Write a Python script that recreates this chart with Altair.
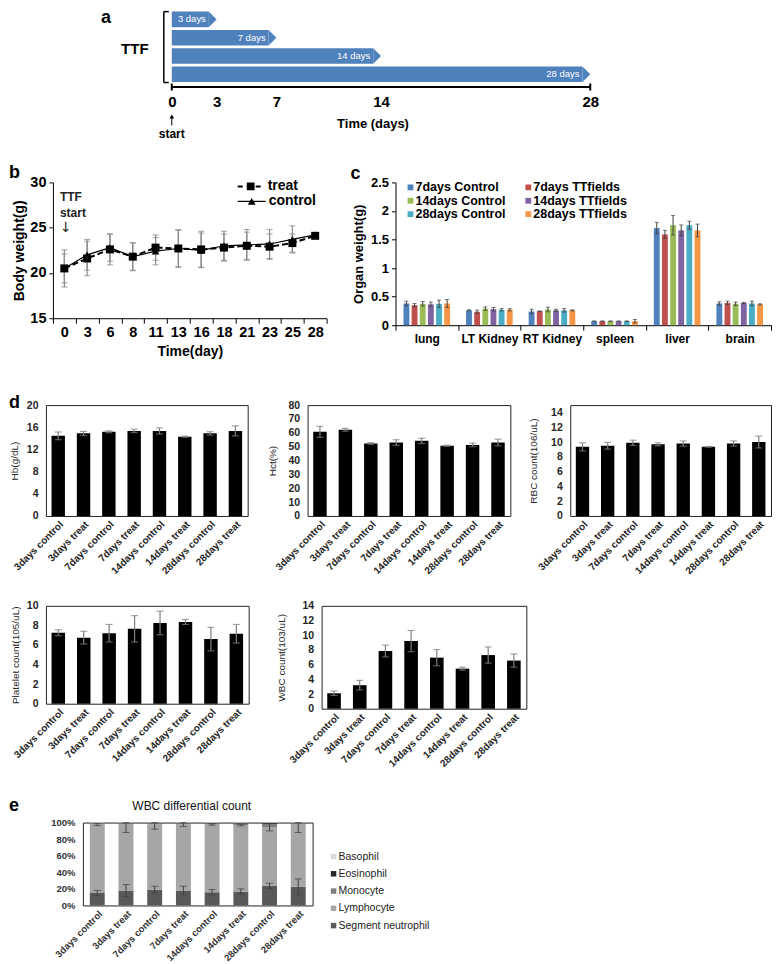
import altair as alt
import pandas as pd

FONT = "Liberation Sans"
BLUE = "#4F81BD"

# ---------------- panel a : treatment schedule ----------------
ttf_days = [3, 7, 14, 28]
ttf_labels = ["3 days", "7 days", "14 days", "28 days"]
time_ticks = [0, 3, 7, 14, 28]

# ---------------- panel b : body weight ----------------
bw_days = ["0", "3", "6", "8", "11", "13", "16", "18", "21", "23", "25", "28"]
bw_treat_mean = [20.5, 21.6, 22.6, 21.8, 22.8, 22.7, 22.6, 22.8, 23.0, 22.9, 23.3, 24.1]
bw_treat_sd = [2.05, 1.9, 1.7, 1.55, 1.4, 2.1, 2.0, 1.5, 1.5, 1.4, 1.0, 0.2]
bw_control_mean = [20.5, 22.0, 22.8, 21.8, 22.4, 22.7, 22.5, 23.0, 23.1, 23.2, 23.7, 24.2]
bw_control_sd = [1.6, 1.7, 1.5, 1.5, 1.5, 2.0, 1.9, 1.6, 1.7, 1.6, 1.5, 0.2]
bw_ticks = [15, 20, 25, 30]

# ---------------- panel c : organ weight ----------------
organs = ["lung", "LT Kidney", "RT Kidney", "spleen", "liver", "brain"]
organ_groups = ["7days Control", "7days TTfields", "14days Control",
                "14days TTfields", "28days Control", "28days TTfields"]
organ_colors = ["#4F81BD", "#C0504D", "#9BBB59", "#8064A2", "#4BACC6", "#F79646"]
c7_mean = [0.38, 0.26, 0.24, 0.07, 1.70, 0.38]
t7_mean = [0.35, 0.235, 0.245, 0.07, 1.59, 0.39]
c14_mean = [0.375, 0.29, 0.275, 0.07, 1.75, 0.375]
t14_mean = [0.365, 0.28, 0.26, 0.07, 1.66, 0.39]
c28_mean = [0.375, 0.27, 0.26, 0.07, 1.75, 0.38]
t28_mean = [0.38, 0.27, 0.26, 0.07, 1.66, 0.365]
c7_err = [0.04, 0.01, 0.04, 0.005, 0.10, 0.03]
t7_err = [0.03, 0.03, 0.005, 0.005, 0.07, 0.03]
c14_err = [0.04, 0.03, 0.04, 0.005, 0.17, 0.03]
t14_err = [0.04, 0.03, 0.02, 0.005, 0.095, 0.01]
c28_err = [0.065, 0.02, 0.03, 0.005, 0.07, 0.04]
t28_err = [0.07, 0.02, 0.01, 0.03, 0.11, 0.01]
organ_ticks = [0, 0.5, 1, 1.5, 2, 2.5]

# ---------------- panel d : blood counts ----------------
blood_groups = ["3days control", "3days treat", "7days control", "7days treat",
                "14days control", "14days treat", "28days control", "28days treat"]
hb_mean = [14.45, 14.9, 15.2, 15.35, 15.35, 14.3, 14.9, 15.35]
hb_err = [0.7, 0.35, 0.15, 0.3, 0.55, 0.1, 0.3, 0.9]
hct_mean = [60.7, 62.2, 52.3, 53.0, 54.2, 50.6, 51.3, 53.0]
hct_err = [4.0, 1.0, 0.6, 2.0, 1.9, 0.4, 1.3, 2.4]
rbc_mean = [9.35, 9.5, 9.9, 9.7, 9.8, 9.35, 9.8, 10.0]
rbc_err = [0.55, 0.45, 0.35, 0.2, 0.35, 0.05, 0.35, 0.8]
plt_mean = [7.25, 6.75, 7.2, 7.65, 8.25, 8.35, 6.6, 7.15]
plt_err = [0.3, 0.65, 0.9, 1.35, 1.2, 0.25, 1.2, 0.95]
wbc_mean = [2.1, 3.2, 7.85, 9.2, 6.95, 5.45, 7.3, 6.55]
wbc_err = [0.3, 0.65, 0.8, 1.45, 1.1, 0.2, 1.1, 0.9]
hb_ticks = [0, 4, 8, 12, 16, 20]
hct_ticks = [0, 10, 20, 30, 40, 50, 60, 70, 80]
rbc_ticks = [0, 2, 4, 6, 8, 10, 12, 14]
plt_ticks = [0, 2, 4, 6, 8, 10]
wbc_ticks = [0, 2, 4, 6, 8, 10, 12, 14]

# ---------------- panel e : WBC differential ----------------
cell_types = ["Segment neutrophil", "Lymphocyte", "Monocyte", "Eosinophil", "Basophil"]
cell_colors = ["#595959", "#A6A6A6", "#7F7F7F", "#262626", "#D9D9D9"]
legend_order = ["Basophil", "Eosinophil", "Monocyte", "Lymphocyte", "Segment neutrophil"]
neut_pct = [15.0, 18.0, 19.2, 18.0, 16.0, 16.8, 23.6, 22.4]
lymph_pct = [82.5, 79.7, 78.5, 79.7, 81.7, 80.2, 70.9, 75.3]
mono_pct = [1.5, 1.5, 1.5, 1.5, 1.5, 2.0, 4.0, 1.5]
eos_pct = [0.3, 0.3, 0.3, 0.3, 0.3, 0.5, 1.0, 0.3]
baso_pct = [0.7, 0.5, 0.5, 0.5, 0.5, 0.5, 0.5, 0.5]
neut_err = [3.2, 7.2, 4.0, 5.2, 3.2, 3.2, 3.2, 9.6]
lymph_err = [1.2, 9.7, 5.7, 2.5, 0.9, 1.0, 4.5, 9.7]
pct_ticks = [0, 20, 40, 60, 80, 100]

ONE = pd.DataFrame({"k": [0]})


def anchor(top, bottom):
    # invisible guide that fixes the vertical extent of a figure row
    return alt.Chart(ONE).mark_rule(opacity=0, color="white", strokeWidth=0.1).encode(
        x=alt.value(0), y=alt.value(top), y2=alt.value(bottom))


def spacer(w):
    return alt.Chart(ONE).mark_point(opacity=0, size=1, strokeWidth=0.1).encode(
        x=alt.value(w / 2), y=alt.value(0.5)).properties(width=w, height=1)


def label(text, x, y, size=18, weight="bold", align="left", baseline="top",
          color="black", font=FONT):
    return alt.Chart(pd.DataFrame({"t": [text]})).mark_text(
        align=align, baseline=baseline, fontSize=size, fontWeight=weight,
        font=font, color=color).encode(x=alt.value(x), y=alt.value(y), text="t:N")


def swatch(color, x, y, size=36):
    return alt.Chart(ONE).mark_square(size=size, color=color, opacity=1).encode(
        x=alt.value(x), y=alt.value(y))


# =============== panel a ===============
W_A, H_A = 419, 76
a_df = pd.DataFrame({"days": ttf_days, "label": ttf_labels})
a_y = alt.Y("label:N", sort=ttf_labels, axis=None,
            scale=alt.Scale(paddingInner=0.15, paddingOuter=0.15, align=0.18))
a_xs = alt.Scale(domain=[0, 28], nice=False)
a_ax = alt.Axis(values=time_ticks, ticks=False, grid=False, domainColor="black", domainWidth=2,
                labelFont=FONT, labelFontSize=15, labelFontWeight="bold", labelColor="black",
                labelPadding=8, labelOverlap=False, labelFlush=False,
                title="Time (days)", titleFont=FONT, titleFontSize=13, titleFontWeight="bold",
                titleColor="black", titlePadding=8, titleX=201)
a_base = alt.Chart(a_df).transform_calculate(start="0", body="datum.days - 0.52")
a_bars = a_base.mark_bar(color=BLUE).encode(
    x=alt.X("start:Q", scale=a_xs, axis=a_ax), x2="body:Q", y=a_y)
a_tips = a_base.mark_point(shape="M -1 -1 L 0 0 L -1 1 Z", size=240, filled=True,
                           color=BLUE, opacity=1, strokeWidth=0).encode(
    x=alt.X("days:Q", scale=a_xs, axis=a_ax), y=a_y)
a_text = a_base.mark_text(align="right", baseline="middle", dx=-3, color="white",
                          font=FONT, fontSize=9.5).encode(
    x=alt.X("body:Q", scale=a_xs, axis=a_ax), y=a_y, text="label:N")
a_ends = alt.Chart(pd.DataFrame({"d": [time_ticks[0], time_ticks[-1]]})).mark_rule(
    color="black", strokeWidth=2).encode(
    x=alt.X("d:Q", scale=a_xs, axis=a_ax), y=alt.value(H_A - 3), y2=alt.value(H_A + 4))
br = alt.Chart(ONE)
a_br1 = br.mark_rule(color="black", strokeWidth=1.5).encode(
    x=alt.value(-8), y=alt.value(1), y2=alt.value(72))
a_br2 = br.mark_rule(color="black", strokeWidth=1.5).encode(
    x=alt.value(-8), x2=alt.value(-3), y=alt.value(1))
a_br3 = br.mark_rule(color="black", strokeWidth=1.5).encode(
    x=alt.value(-8), x2=alt.value(-3), y=alt.value(72))
a_arrow = br.mark_rule(color="black", strokeWidth=1).encode(
    x=alt.value(0), y=alt.value(106), y2=alt.value(115))
a_head = br.mark_point(shape="triangle-up", size=22, filled=True, color="black",
                       opacity=1).encode(x=alt.value(0), y=alt.value(106))
chart_a = alt.layer(
    a_bars, a_tips, a_text, a_ends, a_br1, a_br2, a_br3, a_arrow, a_head,
    label("TTF", -37, 38, size=15, align="center", baseline="middle"),
    label("start", 0, 124, size=12, align="center", baseline="middle"),
    label("a", -71, -2, size=18),
    anchor(-2, 138),
).properties(width=W_A, height=H_A)

# =============== panel b ===============
W_B, H_B = 274, 136
b_rows = []
for s, mm, sd in [("treat", bw_treat_mean, bw_treat_sd), ("control", bw_control_mean, bw_control_sd)]:
    for d, m, e in zip(bw_days, mm, sd):
        b_rows.append({"day": d, "series": s, "m": m, "lo": m - e, "hi": m + e})
b_df = pd.DataFrame(b_rows)
b_xs = alt.Scale(type="band", paddingInner=0, paddingOuter=0)
b_ys = alt.Scale(domain=[15, 30], nice=False, zero=False)
b_xax = alt.Axis(tickBand="extent", labelAngle=0, ticks=True, tickSize=5, tickColor="black",
                 domainColor="black", labelFont=FONT, labelFontSize=14.5, labelFontWeight="bold",
                 labelColor="black", labelPadding=2, labelOverlap=False,
                 title="Time(day)", titleFont=FONT, titleFontSize=14, titleFontWeight="bold",
                 titleColor="black", titlePadding=6)
b_yax = alt.Axis(values=bw_ticks, ticks=True, tickSize=4, tickColor="black", domainColor="black",
                 labelFont=FONT, labelFontSize=14.5, labelFontWeight="bold", labelColor="black",
                 labelPadding=3, grid=False, title="Body weight(g)", titleFont=FONT,
                 titleFontSize=14, titleFontWeight="bold", titleColor="black", titlePadding=3)
b_x = alt.X("day:N", sort=bw_days, scale=b_xs, axis=b_xax)


def b_y(field):
    return alt.Y(field + ":Q", scale=b_ys, axis=b_yax)


b_base = alt.Chart(b_df)
GREY = "#8c8c8c"
b_err = b_base.mark_rule(color=GREY, strokeWidth=1.2).encode(x=b_x, y=b_y("lo"), y2="hi:Q")
b_cap1 = b_base.mark_tick(orient="horizontal", size=6, thickness=1.2, color=GREY).encode(
    x=b_x, y=b_y("lo"))
b_cap2 = b_base.mark_tick(orient="horizontal", size=6, thickness=1.2, color=GREY).encode(
    x=b_x, y=b_y("hi"))
b_treat = b_base.transform_filter("datum.series == 'treat'")
b_ctrl = b_base.transform_filter("datum.series == 'control'")
b_tl = b_treat.mark_line(color="black", strokeWidth=2, strokeDash=[6, 3]).encode(x=b_x, y=b_y("m"))
b_cl = b_ctrl.mark_line(color="black", strokeWidth=1.2).encode(x=b_x, y=b_y("m"))
b_tp = b_treat.mark_point(shape="square", size=64, filled=True, color="black", opacity=1).encode(
    x=b_x, y=b_y("m"))
b_cp = b_ctrl.mark_point(shape="triangle-up", size=60, filled=True, color="black", opacity=1).encode(
    x=b_x, y=b_y("m"))
leg_t = alt.Chart(pd.DataFrame({"s": ["treat"]}))
leg_c = alt.Chart(pd.DataFrame({"s": ["control"]}))
b_l1 = leg_t.mark_rule(color="black", strokeWidth=2, strokeDash=[5, 4]).encode(
    x=alt.value(185), x2=alt.value(211), y=alt.value(4))
b_l2 = leg_t.mark_point(shape="square", size=60, filled=True, color="black", opacity=1).encode(
    x=alt.value(198), y=alt.value(4))
b_l3 = leg_t.mark_text(align="left", baseline="middle", font=FONT, fontSize=14,
                       fontWeight="bold", color="black").encode(
    x=alt.value(215), y=alt.value(4), text="s:N")
b_l4 = leg_c.mark_rule(color="black", strokeWidth=1.2).encode(
    x=alt.value(185), x2=alt.value(213), y=alt.value(19))
b_l5 = leg_c.mark_point(shape="triangle-up", size=60, filled=True, color="black", opacity=1).encode(
    x=alt.value(199), y=alt.value(19))
b_l6 = leg_c.mark_text(align="left", baseline="middle", font=FONT, fontSize=14,
                       fontWeight="bold", color="black").encode(
    x=alt.value(216), y=alt.value(19), text="s:N")
chart_b = alt.layer(
    b_err, b_cap1, b_cap2, b_tl, b_cl, b_tp, b_cp,
    b_l1, b_l2, b_l3, b_l4, b_l5, b_l6,
    label("TTF", 7, 15, size=12, baseline="middle", color="#222"),
    label("start", 7, 31, size=12, baseline="middle", color="#222"),
    label("\u2193", 13, 46, size=14, weight="normal", align="center", baseline="middle",
          font="DejaVu Sans", color="#222"),
    label("b", -44, -18, size=18),
    anchor(-34, 196),
).properties(width=W_B, height=H_B)

# =============== panel c ===============
W_C, H_C = 376, 143
c_means = [c7_mean, t7_mean, c14_mean, t14_mean, c28_mean, t28_mean]
c_errs = [c7_err, t7_err, c14_err, t14_err, c28_err, t28_err]
c_rows = []
for g, mm, ee in zip(organ_groups, c_means, c_errs):
    for o, m, e in zip(organs, mm, ee):
        c_rows.append({"organ": o, "group": g, "m": m, "lo": m - e, "hi": m + e})
c_df = pd.DataFrame(c_rows)
c_xs = alt.Scale(paddingInner=0, paddingOuter=0)
c_ys = alt.Scale(domain=[0, 2.5], nice=False)
c_xax = alt.Axis(tickBand="extent", labelAngle=0, ticks=True, tickSize=5, tickColor="black",
                 domainColor="black", labelFont=FONT, labelFontSize=12, labelFontWeight="bold",
                 labelColor="black", labelPadding=3, labelOverlap=False, title=None)
c_yax = alt.Axis(values=organ_ticks, format="~g", ticks=True, tickSize=4, tickColor="black",
                 domainColor="black", labelFont=FONT, labelFontSize=13, labelFontWeight="bold",
                 labelColor="black", labelPadding=3, grid=False, title="Organ weight(g)",
                 titleFont=FONT, titleFontSize=13, titleFontWeight="bold", titleColor="black",
                 titlePadding=5)
c_x = alt.X("organ:N", sort=organs, scale=c_xs, axis=c_xax)


def c_y(field):
    return alt.Y(field + ":Q", scale=c_ys, axis=c_yax)


c_off = alt.XOffset("group:N", sort=organ_groups,
                    scale=alt.Scale(domain=organ_groups, paddingInner=0.28, paddingOuter=0.98))
c_col = alt.Color("group:N", scale=alt.Scale(domain=organ_groups, range=organ_colors), legend=None)
c_base = alt.Chart(c_df)
c_bars = c_base.mark_bar().encode(x=c_x, xOffset=c_off, y=c_y("m"), color=c_col)
c_err = c_base.mark_rule(color="#404040", strokeWidth=1).encode(
    x=c_x, xOffset=c_off, y=c_y("lo"), y2="hi:Q")
c_cap1 = c_base.mark_tick(orient="horizontal", size=4, thickness=1, color="#404040").encode(
    x=c_x, xOffset=c_off, y=c_y("lo"))
c_cap2 = c_base.mark_tick(orient="horizontal", size=4, thickness=1, color="#404040").encode(
    x=c_x, xOffset=c_off, y=c_y("hi"))
c_leg = []
for i, (g, col) in enumerate(zip(organ_groups, organ_colors)):
    lx = 15 + (i % 2) * 118
    ly = 5 + (i // 2) * 13.4
    c_leg.append(swatch(col, lx, ly, 34))
    c_leg.append(label(g, lx + 5, ly, size=12.5, baseline="middle"))
chart_c = alt.layer(c_bars, c_err, c_cap1, c_cap2, *c_leg, label("c", -45, -17, size=18)
                    ).properties(width=W_C, height=H_C)


# =============== panel d ===============
def blood_panel(mean, err, ticks, ymax, title, w, h, tpad=12, extra=()):
    df = pd.DataFrame({"g": blood_groups, "m": mean, "e": err})
    df["lo"] = df["m"] - df["e"]
    df["hi"] = df["m"] + df["e"]
    xs = alt.Scale(paddingInner=0.47, paddingOuter=0.22)
    ys = alt.Scale(domain=[0, ymax], nice=False)
    xax = alt.Axis(labelAngle=-45, ticks=False, domain=False, labelFont=FONT,
                   labelFontSize=10, labelFontWeight="bold", labelColor="#262626",
                   labelPadding=3, labelOverlap=False, title=None)
    yax = alt.Axis(values=ticks, ticks=False, domain=False, grid=False, labelFont=FONT,
                   labelFontSize=10.5, labelFontWeight="bold", labelColor="#262626",
                   labelPadding=8, title=title, titleFont=FONT, titleFontSize=10,
                   titleFontWeight="normal", titleColor="#262626", titlePadding=tpad)
    x = alt.X("g:N", sort=blood_groups, scale=xs, axis=xax)
    base = alt.Chart(df)
    bars = base.mark_bar(color="black").encode(x=x, y=alt.Y("m:Q", scale=ys, axis=yax))
    rule = base.mark_rule(color="#7f7f7f", strokeWidth=1.2).encode(
        x=x, y=alt.Y("lo:Q", scale=ys, axis=yax), y2="hi:Q")
    cap1 = base.mark_tick(orient="horizontal", size=7, thickness=1.2, color="#7f7f7f").encode(
        x=x, y=alt.Y("lo:Q", scale=ys, axis=yax))
    cap2 = base.mark_tick(orient="horizontal", size=7, thickness=1.2, color="#7f7f7f").encode(
        x=x, y=alt.Y("hi:Q", scale=ys, axis=yax))
    return alt.layer(bars, rule, cap1, cap2, *extra).properties(
        width=w, height=h, view=alt.ViewBackground(stroke="#222", strokeWidth=1))


chart_hb = blood_panel(hb_mean, hb_err, hb_ticks, 20, "Hb(g/dL)", 202, 111, tpad=7,
                       extra=(label("d", -37, -11, size=18), anchor(-26, 185)))
chart_hct = blood_panel(hct_mean, hct_err, hct_ticks, 80, "Hct(%)", 203, 111, tpad=10)
chart_rbc = blood_panel(rbc_mean, rbc_err, rbc_ticks, 15, "RBC count(106/uL)", 201, 111, tpad=12)
chart_plt = blood_panel(plt_mean, plt_err, plt_ticks, 10, "Platelet count(105/uL)", 203, 98, tpad=6,
                        extra=(anchor(-14, 181),))
chart_wbc = blood_panel(wbc_mean, wbc_err, wbc_ticks, 14, "WBC count(103/uL)", 205, 103, tpad=15)

# =============== panel e ===============
W_E, H_E = 230, 83
e_rows = []
stack_vals = [neut_pct, lymph_pct, mono_pct, eos_pct, baso_pct]
for k, (ct, vals) in enumerate(zip(cell_types, stack_vals)):
    for g, v in zip(blood_groups, vals):
        e_rows.append({"g": g, "cell": ct, "pct": v, "k": k})
e_df = pd.DataFrame(e_rows)
e_xs = alt.Scale(paddingInner=0.48, paddingOuter=0.24)
e_ys = alt.Scale(domain=[0, 100], nice=False)
e_xax = alt.Axis(labelAngle=-45, ticks=False, domain=False, labelFont=FONT, labelFontSize=9.5,
                 labelFontWeight="bold", labelColor="#333", labelPadding=3, labelOverlap=False,
                 title=None)
e_yax = alt.Axis(values=pct_ticks, labelExpr="datum.value + '%'", ticks=False, domain=False,
                 grid=False, labelFont=FONT, labelFontSize=9.5, labelFontWeight="bold",
                 labelColor="#333", labelPadding=8, title=None)
e_x = alt.X("g:N", sort=blood_groups, scale=e_xs, axis=e_xax)


def e_y(field, **kw):
    return alt.Y(field + ":Q", scale=e_ys, axis=e_yax, **kw)


e_bars = alt.Chart(e_df).mark_bar().encode(
    x=e_x,
    y=e_y("pct", stack="zero"),
    color=alt.Color("cell:N", scale=alt.Scale(domain=cell_types, range=cell_colors), legend=None),
    order=alt.Order("k:Q", sort="ascending"))
e_err_rows = []
for g, n, ne, l, le in zip(blood_groups, neut_pct, neut_err, lymph_pct, lymph_err):
    top = n + l
    e_err_rows.append({"g": g, "lo": n - ne, "hi": n + ne})
    e_err_rows.append({"g": g, "lo": top - le, "hi": min(top + le, 100)})
e_edf = pd.DataFrame(e_err_rows)
e_eb = alt.Chart(e_edf)
e_r = e_eb.mark_rule(color="#404040", strokeWidth=1).encode(x=e_x, y=e_y("lo"), y2="hi:Q")
e_c1 = e_eb.mark_tick(orient="horizontal", size=7, thickness=1, color="#404040").encode(
    x=e_x, y=e_y("lo"))
e_c2 = e_eb.mark_tick(orient="horizontal", size=7, thickness=1, color="#404040").encode(
    x=e_x, y=e_y("hi"))
e_leg = []
for i, name in enumerate(legend_order):
    ly = 34 + i * 17.3
    e_leg.append(swatch(cell_colors[cell_types.index(name)], 251, ly, 30))
    e_leg.append(label(name, 256, ly, size=10.5, weight="normal", baseline="middle", color="#222"))
chart_e = alt.layer(
    e_bars, e_r, e_c1, e_c2, *e_leg,
    label("WBC differential count", 109, -17, size=12, weight="normal", align="center",
          baseline="middle", color="#111"),
    label("e", -74, -26, size=18),
    anchor(-34, 132),
).properties(width=W_E, height=H_E, view=alt.ViewBackground(stroke="#222", strokeWidth=1))

# =============== layout ===============
FL = dict(spacing=0, bounds="flush")
row_a = alt.hconcat(spacer(163), chart_a, **FL)
row_bc = alt.hconcat(spacer(44), alt.hconcat(chart_b, chart_c, spacing=69, bounds="flush"), **FL)
row_d1 = alt.hconcat(spacer(37), alt.hconcat(chart_hb, chart_hct, chart_rbc, spacing=60,
                                             bounds="flush"), **FL)
row_d2 = alt.hconcat(spacer(37), alt.hconcat(chart_plt, chart_wbc, spacing=73,
                                             bounds="flush"), **FL)
row_e = alt.hconcat(spacer(74), chart_e, **FL)

chart = alt.vconcat(row_a, row_bc, row_d1, row_d2, row_e, spacing=0).properties(
    padding=0
).resolve_scale(color="independent").configure_view(stroke=None)

chart.save("out.html", embed_options={"renderer": "svg", "actions": False})
